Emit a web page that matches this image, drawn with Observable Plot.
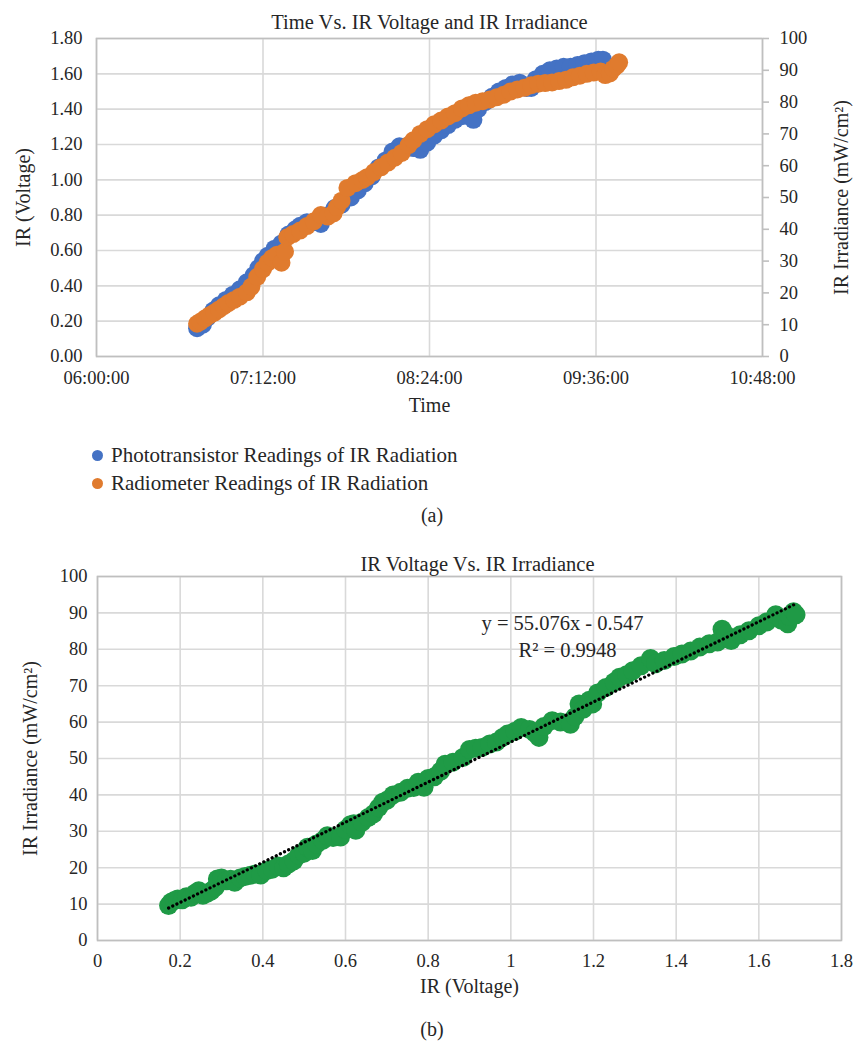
<!DOCTYPE html>
<html>
<head>
<meta charset="utf-8">
<script src="https://cdn.jsdelivr.net/npm/d3@7"></script>
<script src="https://cdn.jsdelivr.net/npm/@observablehq/plot@0.6"></script>
<style>
  html, body { margin: 0; padding: 0; background: #ffffff; }
  body { width: 855px; height: 1045px; position: relative; overflow: hidden;
         font-family: "Liberation Serif", "DejaVu Serif", serif; color: #262626; }
  #chartA, #chartB { position: absolute; left: 0; }
  #chartA { top: 0; }
  #chartB { top: 540px; }
  .legend { position: absolute; left: 0; font-size: 21px; }
  .legend .row { position: absolute; white-space: nowrap; height: 24px; line-height: 24px; }
  .legend .sw { position: absolute; width: 11px; height: 11px; border-radius: 50%; top: 6.5px; }
  .legend .lbl { position: absolute; left: 19px; top: 0; }
  .cap { position: absolute; font-size: 20px; width: 100px; text-align: center; line-height: 24px; }
</style>
</head>
<body>
<div id="chartA"></div>
<div class="legend">
  <div class="row" style="left:92px; top:443px;"><span class="sw" id="sw0"></span><span class="lbl" id="lb0"></span></div>
  <div class="row" style="left:92px; top:471px;"><span class="sw" id="sw1"></span><span class="lbl" id="lb1"></span></div>
</div>
<div class="cap" id="capA" style="left:382px; top:503px;"></div>
<div id="chartB"></div>
<div class="cap" id="capB" style="left:382px; top:1017px;"></div>
<script>
// ---------- Chart (a) data ----------
const chartTitleA = "Time Vs. IR Voltage and IR Irradiance";
const seriesNames = ["Phototransistor Readings of IR Radiation", "Radiometer Readings of IR Radiation"];
const seriesColors = ["#4472C4", "#E07B2E"];
const timeTickLabels = ["06:00:00", "07:12:00", "08:24:00", "09:36:00", "10:48:00"];
const voltageTicks = [0, 0.2, 0.4, 0.6, 0.8, 1.0, 1.2, 1.4, 1.6, 1.8];
const irradianceTicks = [0, 10, 20, 30, 40, 50, 60, 70, 80, 90, 100];

const phototransistorTimes = [
  "06:43:30","06:46:00","06:48:00","06:50:30","06:53:00","06:56:00","06:59:00","07:02:00","07:05:00","07:08:00",
  "07:10:00","07:12:00","07:14:00","07:17:00","07:20:00","07:23:00","07:26:00","07:28:00","07:31:00","07:34:00",
  "07:37:00","07:40:00","07:43:00","07:46:00","07:50:00","07:53:00","07:56:00","07:59:00","08:02:00","08:05:00",
  "08:08:00","08:11:00","08:14:00","08:17:00","08:20:00","08:23:00","08:26:00","08:29:00","08:32:00","08:35:00",
  "08:38:00","08:41:00","08:43:00","08:45:00","08:48:00","08:51:00","08:54:00","08:57:00","09:00:00","09:03:00",
  "09:06:00","09:08:00","09:10:00","09:13:00","09:16:00","09:19:00","09:22:00","09:25:00","09:28:00","09:31:00",
  "09:34:00","09:37:00","09:39:00"
];
const phototransistorVoltage = [
  0.16,0.18,0.22,0.26,0.29,0.32,0.35,0.38,0.42,0.46,
  0.50,0.54,0.57,0.61,0.64,0.69,0.72,0.74,0.76,0.76,
  0.75,0.80,0.84,0.86,0.90,0.94,0.98,1.02,1.07,1.11,
  1.16,1.19,1.19,1.18,1.17,1.21,1.25,1.28,1.31,1.34,
  1.36,1.36,1.34,1.40,1.44,1.47,1.50,1.52,1.54,1.55,
  1.52,1.52,1.57,1.60,1.62,1.63,1.64,1.64,1.65,1.66,
  1.67,1.68,1.68
];

const radiometerTimes = [
  "06:43:30","06:45:00","06:47:00","06:49:00","06:51:00","06:53:00","06:55:00","06:57:00","06:59:30","07:02:00",
  "07:05:00","07:07:00","07:09:30","07:12:00","07:14:00","07:16:00","07:18:00","07:20:00","07:21:30","07:22:30",
  "07:25:00","07:28:00","07:31:00","07:34:00","07:37:00","07:40:00","07:42:30","07:44:00","07:46:00","07:48:30",
  "07:52:00","07:55:00","07:57:00","08:00:00","08:03:00","08:06:00","08:09:00","08:12:00","08:15:00","08:17:00",
  "08:20:00","08:23:00","08:26:00","08:29:00","08:32:00","08:35:00","08:38:00","08:41:00","08:44:00","08:47:00",
  "08:50:00","08:53:00","08:56:00","08:59:00","09:02:00","09:05:00","09:08:00","09:11:00","09:14:00","09:17:00",
  "09:20:00","09:23:00","09:26:00","09:29:00","09:32:00","09:35:00","09:38:00","09:40:00","09:42:00","09:43:30",
  "09:45:00","09:46:00"
];
const radiometerIrradiance = [
  10.3,11.0,12.0,13.0,13.8,14.8,15.8,16.8,17.8,18.8,
  20.2,22.0,25.0,27.5,29.5,31.0,32.0,29.5,33.0,37.5,
  38.5,39.6,41.0,42.5,44.5,44.0,45.0,47.0,49.0,53.0,
  54.5,55.5,56.4,58.0,59.5,61.0,62.5,64.0,66.5,68.0,
  70.0,71.5,73.0,74.2,75.5,76.5,78.0,79.0,79.8,80.3,
  80.8,81.5,82.3,83.3,84.0,84.5,85.3,85.8,86.0,86.2,
  86.6,87.0,87.8,88.3,88.9,89.3,89.6,88.5,89.0,90.5,
  91.5,92.5
];

// ---------- Chart (b) data ----------
const chartTitleB = "IR Voltage Vs. IR Irradiance";
const scatterColor = "#1F9A46";
const voltageTicksB = [0, 0.2, 0.4, 0.6, 0.8, 1.0, 1.2, 1.4, 1.6, 1.8];
const irradianceTicksB = [0, 10, 20, 30, 40, 50, 60, 70, 80, 90, 100];
const scatterVoltage = [
  0.172,0.178,0.186,0.194,0.205,0.215,0.226,0.236,0.245,0.255,
  0.265,0.275,0.285,0.290,0.300,0.312,0.322,0.332,0.345,0.357,
  0.370,0.382,0.395,0.410,0.423,0.437,0.450,0.462,0.475,0.487,
  0.500,0.508,0.520,0.530,0.545,0.556,0.570,0.588,0.600,0.612,
  0.620,0.625,0.640,0.655,0.668,0.680,0.690,0.700,0.715,0.733,
  0.750,0.765,0.776,0.790,0.800,0.815,0.830,0.841,0.860,0.884,
  0.900,0.915,0.930,0.949,0.965,0.980,0.992,1.010,1.025,1.045,
  1.058,1.068,1.080,1.100,1.120,1.144,1.155,1.165,1.175,1.190,
  1.198,1.210,1.230,1.250,1.263,1.280,1.295,1.315,1.338,1.350,
  1.371,1.395,1.414,1.435,1.457,1.480,1.500,1.511,1.520,1.533,
  1.555,1.576,1.600,1.619,1.641,1.655,1.670,1.674,1.684,1.690
];
const scatterIrradiance = [
  9.6,10.5,11.0,11.4,11.2,12.0,11.9,13.0,13.7,12.4,
  13.0,13.6,14.6,16.9,17.2,16.4,16.8,16.0,17.2,17.6,
  17.9,18.3,18.0,19.2,19.6,20.5,20.0,21.0,21.9,23.5,
  24.0,25.6,24.7,26.5,27.5,28.8,28.3,28.4,30.5,31.8,
  32.1,30.3,32.5,33.8,34.8,36.5,38.0,38.5,40.0,40.7,
  41.8,42.0,43.5,42.1,44.5,45.0,46.5,48.4,49.0,50.3,
  52.5,52.8,53.0,54.0,54.5,55.8,56.7,57.5,58.5,58.0,
  57.0,55.8,58.8,60.4,60.0,59.4,61.5,65.0,63.5,66.0,
  65.0,68.0,69.5,71.0,72.3,73.0,74.1,75.5,77.5,76.0,
  76.9,78.0,78.7,79.5,80.6,81.5,82.0,85.5,84.0,82.4,
  84.0,85.1,86.5,87.5,89.5,88.0,87.0,89.0,90.3,89.5
];
const trendSlope = 55.076;
const trendIntercept = -0.547;
const trendEquation = "y = 55.076x - 0.547";
const trendR2 = "R² = 0.9948";
const trendAnchorVoltage = 1.125;  // where the equation label sits (x)
const trendAnchorIrradiance = 87;  // where the equation label sits (y)

// ---------- Build chart (a) ----------
const parseT = d3.utcParse("%H:%M:%S");
const fmtT = d3.utcFormat("%H:%M:%S");
const ink = "#262626";
const gridColor = "#d9d9d9";
const axisColor = "#bfbfbf";
const fontFam = "Liberation Serif, DejaVu Serif, serif";
const timeTicks = timeTickLabels.map(parseT);
const k = 1.8 / 100; // right axis (irradiance) mapped onto the left (voltage) scale

const blueData = phototransistorTimes.map((t, i) => ({time: parseT(t), value: phototransistorVoltage[i]}));
const orangeData = radiometerTimes.map((t, i) => ({time: parseT(t), value: radiometerIrradiance[i]}));

const chartA = Plot.plot({
  width: 855, height: 430,
  marginTop: 38, marginBottom: 74, marginLeft: 96, marginRight: 93,
  style: {fontFamily: fontFam, fontSize: "18px", color: ink, background: "transparent", overflow: "visible"},
  x: {type: "utc", domain: [timeTicks[0], timeTicks[timeTicks.length - 1]]},
  y: {domain: [0, 1.8]},
  marks: [
    Plot.gridX(timeTicks, {stroke: gridColor, strokeOpacity: 1, strokeWidth: 1.6}),
    Plot.gridY(voltageTicks, {stroke: gridColor, strokeOpacity: 1, strokeWidth: 1.6}),
    Plot.frame({stroke: axisColor, strokeWidth: 1.6}),
    Plot.axisX(timeTicks, {tickSize: 0, tickPadding: 14, tickFormat: fmtT, label: null, fontSize: 18.5}),
    Plot.axisY(voltageTicks, {anchor: "left", tickSize: 0, tickPadding: 14, tickFormat: d3.format(".2f"), label: null, fontSize: 18.5}),
    Plot.axisY(irradianceTicks.map(v => v * k), {anchor: "right", tickSize: 6, tickPadding: 11, stroke: axisColor, strokeWidth: 1.6, strokeOpacity: 1, fill: ink, tickFormat: v => String(Math.round(v / k)), label: null, fontSize: 18.5}),
    Plot.dot(blueData, {x: "time", y: "value", r: 9, fill: seriesColors[0], stroke: null}),
    Plot.dot(orangeData, {x: "time", y: d => d.value * k, r: 9, fill: seriesColors[1], stroke: null}),
    Plot.text([chartTitleA], {frameAnchor: "top", dy: -24, fontSize: 20.5, fill: ink}),
    Plot.text(["Time"], {frameAnchor: "bottom", dy: 55, fontSize: 20, fill: ink}),
    Plot.text(["IR (Voltage)"], {frameAnchor: "left", textAnchor: "middle", dx: -73, rotate: -90, fontSize: 20, fill: ink}),
    Plot.text(["IR Irradiance (mW/cm²)"], {frameAnchor: "right", textAnchor: "middle", dx: 79, rotate: -90, fontSize: 20, fill: ink})
  ]
});
document.getElementById("chartA").appendChild(chartA);

// legend + caption
seriesNames.forEach((n, i) => {
  document.getElementById("sw" + i).style.background = seriesColors[i];
  document.getElementById("lb" + i).textContent = n;
});
document.getElementById("capA").textContent = "(a)";
document.getElementById("capB").textContent = "(b)";

// ---------- Build chart (b) ----------
const scatterData = scatterVoltage.map((v, i) => ({v, irr: scatterIrradiance[i]}));
const vMin = d3.min(scatterVoltage), vMax = d3.max(scatterVoltage);
const trendData = [vMin, vMax].map(v => ({v, irr: trendSlope * v + trendIntercept}));

const chartB = Plot.plot({
  width: 855, height: 505,
  marginTop: 36, marginBottom: 105, marginLeft: 97, marginRight: 14,
  style: {fontFamily: fontFam, fontSize: "18px", color: ink, background: "transparent", overflow: "visible"},
  x: {domain: [0, 1.8]},
  y: {domain: [0, 100]},
  marks: [
    Plot.gridX(voltageTicksB, {stroke: gridColor, strokeOpacity: 1, strokeWidth: 1.6}),
    Plot.gridY(irradianceTicksB, {stroke: gridColor, strokeOpacity: 1, strokeWidth: 1.6}),
    Plot.frame({stroke: axisColor, strokeWidth: 1.6}),
    Plot.axisX(voltageTicksB, {tickSize: 0, tickPadding: 13, tickFormat: d => String(+d.toFixed(1)), label: null, fontSize: 18.5}),
    Plot.axisY(irradianceTicksB, {tickSize: 0, tickPadding: 10, tickFormat: d => String(d), label: null, fontSize: 18.5}),
    Plot.dot(scatterData, {x: "v", y: "irr", r: 9.5, fill: scatterColor, stroke: null}),
    Plot.line(trendData, {x: "v", y: "irr", stroke: "#000", strokeWidth: 3.2, strokeDasharray: "0.1,4.5", strokeLinecap: "round"}),
    Plot.text([{v: trendAnchorVoltage, irr: trendAnchorIrradiance}], {x: "v", y: "irr", text: () => trendEquation, fontSize: 20.5, fill: ink}),
    Plot.text([{v: trendAnchorVoltage, irr: trendAnchorIrradiance}], {x: "v", y: "irr", dx: 5, dy: 27, text: () => trendR2, fontSize: 20.5, fill: ink}),
    Plot.text([chartTitleB], {frameAnchor: "top", dx: 8, dy: -20, fontSize: 20.5, fill: ink}),
    Plot.text(["IR (Voltage)"], {frameAnchor: "bottom", dy: 52, fontSize: 20, fill: ink}),
    Plot.text(["IR Irradiance (mW/cm²)"], {frameAnchor: "left", textAnchor: "middle", dx: -67, rotate: -90, fontSize: 20, fill: ink})
  ]
});
document.getElementById("chartB").appendChild(chartB);
</script>
</body>
</html>
